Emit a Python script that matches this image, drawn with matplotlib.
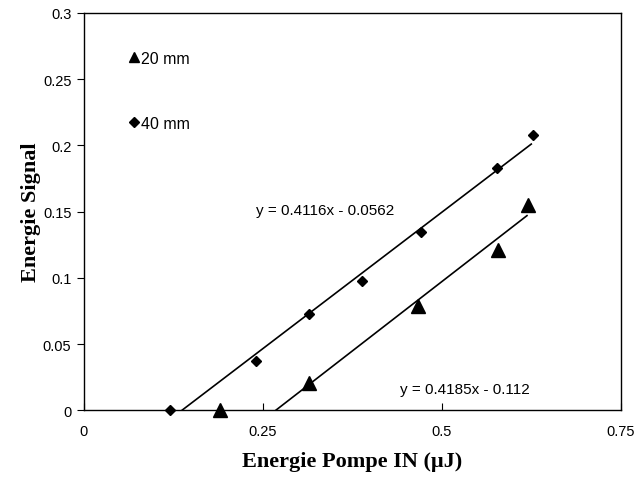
import matplotlib
matplotlib.use('Agg')
import matplotlib.pyplot as plt
from matplotlib.lines import Line2D
import numpy as np

# 20 mm series (triangles)
x_20 = [0.19, 0.315, 0.467, 0.578, 0.62]
y_20 = [0.0, 0.021, 0.079, 0.121, 0.155]
# 40 mm series (diamonds)
x_40 = [0.12, 0.24, 0.315, 0.388, 0.471, 0.577, 0.628]
y_40 = [0.0, 0.037, 0.073, 0.098, 0.135, 0.183, 0.208]

# linear trendlines: slope, intercept, last x
fit_20 = (0.4185, -0.112, 0.619)
fit_40 = (0.4116, -0.0562, 0.625)

plt.rcParams['font.family'] = ['Liberation Sans', 'DejaVu Sans']

fig = plt.figure(figsize=(6.36, 4.81), dpi=100)
ax = fig.add_axes([0.132, 0.1445, 0.844, 0.8265])

def trend(fit):
    a, b, xe = fit
    xs = np.array([-b / a, xe])
    return xs, a * xs + b

xs, ys = trend(fit_40)
ax.plot(xs, ys, color='black', lw=1.2)
xs, ys = trend(fit_20)
ax.plot(xs, ys, color='black', lw=1.2)

ax.plot(x_20, y_20, '^', color='black', ms=10, ls='none', clip_on=False)
ax.plot(x_40, y_40, 'D', color='black', ms=5.5, ls='none', clip_on=False)

ax.text(0.24, 0.148, 'y = 0.4116x - 0.0562', fontsize=11)
ax.text(0.442, 0.013, 'y = 0.4185x - 0.112', fontsize=11)

ax.set_xlim(0, 0.75)
ax.set_ylim(0, 0.3)
ax.set_xticks([0, 0.25, 0.5, 0.75])
ax.set_xticklabels(['0', '0.25', '0.5', '0.75'])
ax.set_yticks([0, 0.05, 0.1, 0.15, 0.2, 0.25, 0.3])
ax.set_yticklabels(['0', '0.05', '0.1', '0.15', '0.2', '0.25', '0.3'])
ax.tick_params(axis='x', direction='in', length=5, labelsize=10.5, pad=10)
ax.tick_params(axis='y', direction='out', length=5, labelsize=10.5, pad=4)
for s in ax.spines.values():
    s.set_linewidth(1.0)

ax.set_xlabel('Energie Pompe IN (µJ)', fontsize=16, fontweight='bold',
              family='Liberation Serif', labelpad=9)
ax.set_ylabel('Energie Signal', fontsize=16, fontweight='bold',
              family='Liberation Serif', labelpad=1)

handles = [Line2D([], [], marker='^', color='black', ms=7, ls='none'),
           Line2D([], [], marker='D', color='black', ms=5, ls='none')]
ax.legend(handles, ['20 mm', '40 mm'], loc='upper left',
          bbox_to_anchor=(0.07, 0.925), frameon=False,
          fontsize=11.5, handlelength=0.6, handletextpad=0.15,
          labelspacing=3.15, borderpad=0)

fig.savefig('out.png', dpi=100)
